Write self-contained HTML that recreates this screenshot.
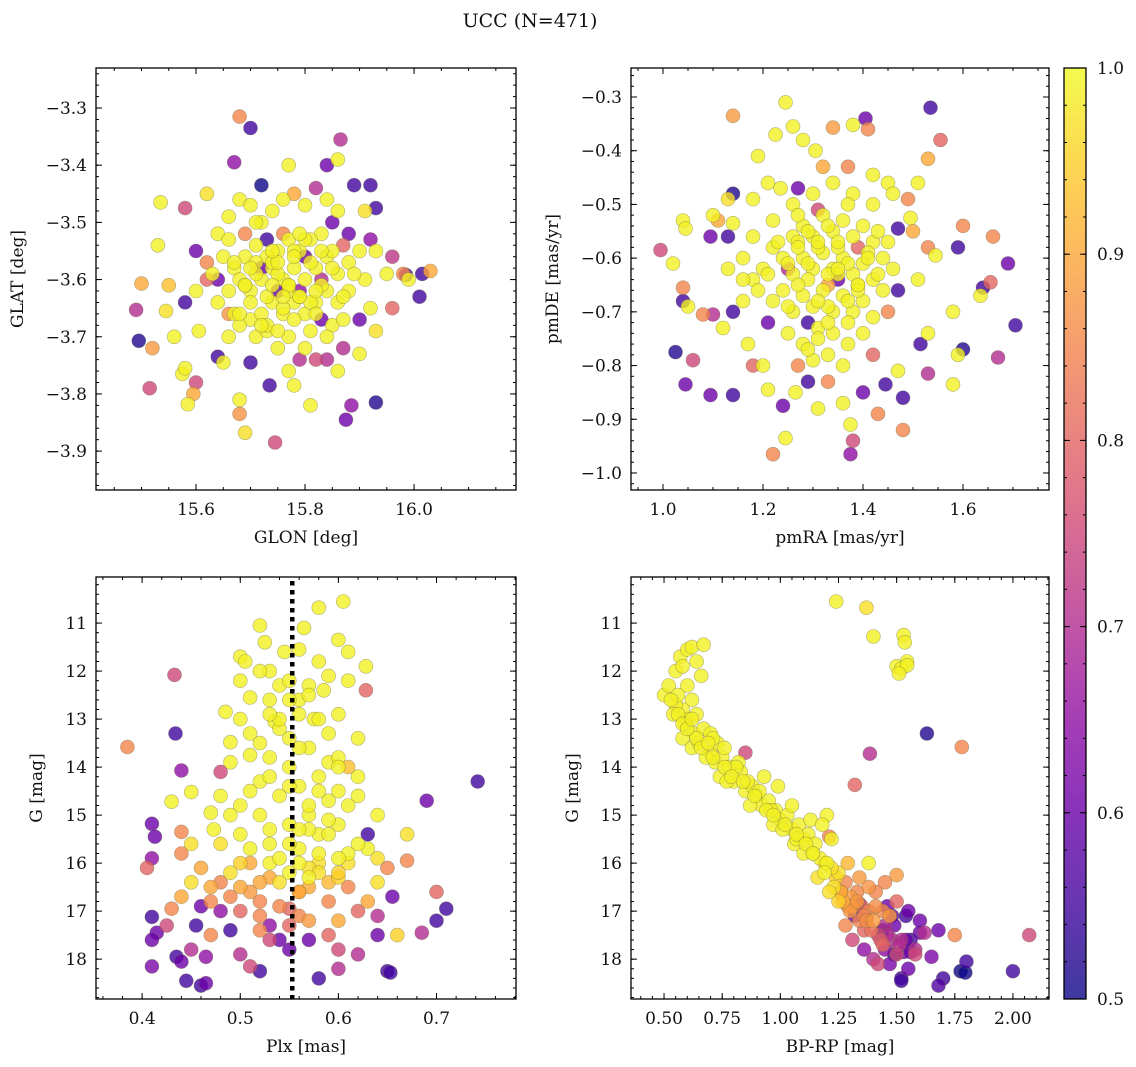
<!DOCTYPE html>
<html><head><meta charset="utf-8"><title>UCC (N=471)</title>
<style>
html,body{margin:0;padding:0;background:#fff;}
svg{display:block;font-family:"DejaVu Serif","Liberation Serif",serif;}
</style></head>
<body>
<svg id="fig" width="1136" height="1067" viewBox="0 0 1136 1067" xmlns="http://www.w3.org/2000/svg">
<rect width="1136" height="1067" fill="#fff"/>
<text x="530" y="27" text-anchor="middle" font-size="19" fill="#111">UCC (N=471)</text>
</svg>
<script>
// ---- Panel 1: GLON / GLAT ----
const glonVals=[15.68,15.70,15.865,15.67,15.84,15.77,15.86,15.89,15.92,15.72,15.535,15.62,15.93,15.91,15.58,15.53,15.60,15.55,15.50,15.49,15.495,15.52,15.515,15.56,15.545,15.58,15.575,15.58,15.585,15.595,15.60,15.605,15.64,15.65,15.68,15.68,15.69,15.70,15.71,15.735,15.745,15.78,15.77,15.81,15.86,15.875,15.885,15.93,15.87,15.90,15.93,15.96,15.98,15.985,16.015,16.03,16.01,15.99,15.95,15.96,15.93,15.90,15.92,15.88,15.88,15.91,15.92,15.90,15.85,15.84,15.82,15.80,15.75,15.70,15.68,15.66,15.64,15.62,15.60,15.62,15.64,15.66,15.68,15.70,15.72,15.74,15.76,15.78,15.80,15.82,15.84,15.86,15.85,15.83,15.81,15.79,15.77,15.75,15.73,15.71,15.69,15.67,15.65,15.63,15.66,15.68,15.70,15.72,15.74,15.76,15.78,15.80,15.82,15.84,15.86,15.84,15.82,15.80,15.78,15.76,15.74,15.72,15.70,15.73,15.77,15.81,15.86,15.88,15.75,15.79,15.83,15.72,15.80,15.76,15.69,15.87,15.64,15.79,15.73,15.83,15.66,15.71,15.75,15.77,15.79,15.74,15.76,15.78,15.73,15.77,15.81,15.69,15.85,15.67,
15.67,15.69,15.71,15.73,15.75,15.77,15.79,15.81,15.83,15.85,15.87,15.89,15.68,15.70,15.72,15.74,15.76,15.78,15.80,15.82,15.84,15.71,15.75,15.79,15.83,15.87,15.66,15.74,15.78,15.82];
const glatVals=[-3.315,-3.335,-3.355,-3.395,-3.40,-3.40,-3.39,-3.435,-3.435,-3.435,-3.465,-3.45,-3.475,-3.48,-3.475,-3.54,-3.55,-3.61,-3.607,-3.653,-3.707,-3.72,-3.79,-3.70,-3.655,-3.64,-3.765,-3.755,-3.818,-3.80,-3.78,-3.69,-3.735,-3.745,-3.835,-3.81,-3.868,-3.745,-3.70,-3.785,-3.885,-3.785,-3.76,-3.82,-3.76,-3.845,-3.82,-3.815,-3.72,-3.73,-3.69,-3.65,-3.59,-3.592,-3.59,-3.585,-3.63,-3.60,-3.59,-3.56,-3.55,-3.55,-3.53,-3.52,-3.57,-3.60,-3.65,-3.67,-3.68,-3.74,-3.74,-3.72,-3.72,-3.67,-3.68,-3.66,-3.64,-3.60,-3.62,-3.57,-3.52,-3.49,-3.46,-3.47,-3.50,-3.48,-3.46,-3.45,-3.47,-3.44,-3.46,-3.48,-3.50,-3.52,-3.53,-3.55,-3.53,-3.55,-3.56,-3.54,-3.56,-3.58,-3.56,-3.59,-3.62,-3.60,-3.62,-3.60,-3.58,-3.60,-3.58,-3.60,-3.58,-3.56,-3.59,-3.62,-3.64,-3.66,-3.64,-3.66,-3.64,-3.66,-3.64,-3.69,-3.70,-3.69,-3.64,-3.62,-3.62,-3.62,-3.60,-3.58,-3.56,-3.52,-3.52,-3.54,-3.60,-3.74,-3.53,-3.67,-3.70,-3.57,-3.59,-3.61,-3.63,-3.57,-3.65,-3.55,-3.68,-3.62,-3.64,-3.61,-3.58,-3.66,
-3.57,-3.61,-3.59,-3.63,-3.57,-3.61,-3.63,-3.57,-3.61,-3.55,-3.63,-3.59,-3.66,-3.58,-3.68,-3.55,-3.63,-3.67,-3.53,-3.66,-3.70,-3.50,-3.69,-3.52,-3.55,-3.67,-3.53,-3.61,-3.56,-3.62];
const probA=[0.85,0.55,0.7,0.65,0.6,0.99,0.99,0.55,0.55,0.5,0.99,0.97,0.55,0.97,0.75,0.99,0.6,0.93,0.9,0.7,0.52,0.88,0.75,0.99,0.97,0.55,0.99,0.99,0.99,0.9,0.75,0.99,0.55,0.99,0.87,0.99,0.97,0.55,0.99,0.55,0.75,0.99,0.99,0.99,0.99,0.6,0.65,0.52,0.7,0.99,0.97,0.8,0.85,0.55,0.55,0.9,0.55,0.99,0.99,0.72,0.99,0.99,0.65,0.6,0.99,0.99,0.99,0.6,0.99,0.7,0.75,0.99,0.99,0.99,0.99,0.87,0.99,0.8,0.99,0.85,0.99,0.99,0.99,0.99,0.99,0.99,0.99,0.9,0.99,0.7,0.99,0.99,0.6,0.99,0.99,0.99,0.99,0.99,0.99,0.99,0.99,0.99,0.99,0.99,0.99,0.99,0.99,0.99,0.99,0.99,0.99,0.99,0.99,0.99,0.99,0.99,0.99,0.99,0.99,0.99,0.99,0.99,0.99,0.99,0.99,0.99,0.99,0.99,0.6,0.65,0.7,0.6,0.6,0.85,0.85,0.8,0.6,0.7,0.55,0.6,0.99,0.99,0.99,0.99,0.99,0.99,0.99,0.99,0.99,0.99,0.99,0.99,0.99,0.99,
0.99,0.99,0.99,0.99,0.99,0.99,0.99,0.99,0.99,0.99,0.99,0.99,0.99,0.99,0.99,0.99,0.99,0.99,0.99,0.99,0.99,0.99,0.99,0.99,0.99,0.99,0.99,0.99,0.99,0.99];
const xTicksA=[15.6,15.8,16.0];
const yTicksA=[-3.3,-3.4,-3.5,-3.6,-3.7,-3.8,-3.9];

// ---- Panel 2: pmRA / pmDE ----
const pmraVals=[1.14,1.245,1.535,1.405,1.225,1.26,1.34,1.38,1.41,1.555,1.28,1.19,1.305,1.53,1.32,1.37,1.42,1.45,1.51,1.13,1.14,1.18,1.21,1.235,1.27,1.10,1.11,1.14,1.13,1.095,1.04,1.045,1.02,0.995,1.04,1.04,1.05,1.08,1.10,1.025,1.06,1.045,1.095,1.14,1.12,1.14,1.16,1.17,1.18,1.20,1.21,1.24,1.245,1.22,1.265,1.29,1.31,1.33,1.36,1.375,1.38,1.375,1.40,1.43,1.445,1.48,1.48,1.47,1.53,1.58,1.59,1.60,1.67,1.705,1.69,1.66,1.655,1.64,1.635,1.60,1.59,1.58,1.545,1.53,1.53,1.515,1.50,1.495,1.47,1.49,1.46,1.42,1.38,1.34,1.30,1.26,1.22,1.18,1.16,1.18,1.20,1.22,1.24,1.26,1.28,1.30,1.32,1.34,1.36,1.38,1.40,1.42,1.44,1.46,1.44,1.42,1.40,1.38,1.36,1.34,1.32,1.30,1.28,1.26,1.24,1.22,1.26,1.28,1.30,1.32,1.34,1.36,1.38,1.40,1.42,1.40,1.37,1.34,1.31,1.28,1.25,1.30,1.36,1.33,1.29,1.35,1.25,1.39,1.31,1.45,1.21,1.42,1.27,1.47,1.51,1.16,1.13,1.33,1.35,1.31,1.37,1.29,1.33,1.39,1.27,
1.25,1.27,1.29,1.31,1.33,1.35,1.37,1.39,1.41,1.43,1.23,1.27,1.31,1.35,1.39,1.43,1.21,1.25,1.29,1.33,1.37,1.41,1.45,1.19,1.33,1.29,1.37,1.31,1.35,1.27];
const pmdeVals=[-0.335,-0.31,-0.32,-0.34,-0.37,-0.355,-0.357,-0.352,-0.36,-0.38,-0.38,-0.41,-0.40,-0.415,-0.43,-0.43,-0.445,-0.46,-0.46,-0.49,-0.48,-0.49,-0.46,-0.47,-0.47,-0.52,-0.53,-0.535,-0.56,-0.56,-0.53,-0.545,-0.61,-0.585,-0.655,-0.68,-0.69,-0.705,-0.705,-0.775,-0.79,-0.835,-0.855,-0.855,-0.73,-0.70,-0.68,-0.76,-0.80,-0.80,-0.845,-0.875,-0.935,-0.965,-0.85,-0.83,-0.88,-0.83,-0.87,-0.91,-0.94,-0.965,-0.85,-0.89,-0.835,-0.86,-0.92,-0.81,-0.815,-0.835,-0.78,-0.77,-0.785,-0.725,-0.61,-0.56,-0.645,-0.655,-0.67,-0.54,-0.58,-0.70,-0.595,-0.58,-0.74,-0.76,-0.55,-0.525,-0.545,-0.49,-0.48,-0.50,-0.48,-0.46,-0.48,-0.50,-0.53,-0.56,-0.60,-0.64,-0.62,-0.58,-0.60,-0.56,-0.54,-0.56,-0.52,-0.55,-0.53,-0.56,-0.54,-0.57,-0.60,-0.62,-0.66,-0.64,-0.61,-0.63,-0.60,-0.62,-0.59,-0.62,-0.60,-0.63,-0.66,-0.68,-0.70,-0.67,-0.69,-0.66,-0.70,-0.67,-0.70,-0.68,-0.71,-0.74,-0.76,-0.74,-0.73,-0.76,-0.74,-0.79,-0.80,-0.78,-0.72,-0.64,-0.62,-0.58,-0.51,-0.70,-0.72,-0.78,-0.80,-0.66,-0.64,-0.64,-0.62,-0.65,-0.63,-0.58,-0.68,-0.61,-0.69,-0.65,-0.57,
-0.61,-0.58,-0.64,-0.57,-0.63,-0.58,-0.61,-0.66,-0.59,-0.63,-0.57,-0.65,-0.68,-0.62,-0.65,-0.55,-0.63,-0.69,-0.55,-0.72,-0.72,-0.60,-0.57,-0.66,-0.54,-0.77,-0.50,-0.75,-0.57,-0.52];
const probB=[0.88,0.99,0.55,0.6,0.99,0.99,0.88,0.99,0.85,0.8,0.99,0.99,0.99,0.9,0.9,0.85,0.99,0.99,0.99,0.97,0.52,0.99,0.99,0.99,0.6,0.99,0.9,0.99,0.55,0.6,0.99,0.99,0.99,0.75,0.85,0.55,0.99,0.85,0.7,0.52,0.75,0.6,0.6,0.55,0.99,0.55,0.99,0.99,0.8,0.99,0.99,0.6,0.99,0.85,0.99,0.55,0.99,0.85,0.99,0.99,0.75,0.65,0.6,0.85,0.55,0.55,0.85,0.99,0.7,0.99,0.99,0.52,0.7,0.55,0.6,0.85,0.8,0.55,0.99,0.85,0.55,0.99,0.99,0.85,0.99,0.55,0.9,0.99,0.55,0.85,0.99,0.99,0.99,0.99,0.99,0.99,0.99,0.99,0.99,0.99,0.99,0.99,0.99,0.99,0.99,0.99,0.99,0.99,0.99,0.99,0.99,0.99,0.99,0.99,0.99,0.99,0.99,0.99,0.99,0.99,0.99,0.99,0.99,0.99,0.99,0.99,0.99,0.99,0.99,0.99,0.99,0.99,0.99,0.99,0.99,0.99,0.99,0.99,0.99,0.99,0.99,0.99,0.99,0.99,0.55,0.6,0.7,0.8,0.75,0.85,0.6,0.8,0.85,0.55,0.99,0.99,0.99,0.9,0.99,0.99,0.99,0.99,0.99,0.99,0.99,0.99,
0.99,0.99,0.99,0.99,0.99,0.99,0.99,0.99,0.99,0.99,0.99,0.99,0.99,0.99,0.99,0.99,0.99,0.99,0.99,0.99,0.99,0.99,0.99,0.99,0.99,0.99,0.99,0.99,0.99,0.99];
const xTicksB=[1.0,1.2,1.4,1.6];
const yTicksB=[-0.3,-0.4,-0.5,-0.6,-0.7,-0.8,-0.9,-1.0];

// ---- Panel 3: Plx / G ----
const plxVals=[0.385,0.433,0.434,0.44,0.43,0.41,0.413,0.41,0.405,0.41,0.415,0.41,0.41,0.435,0.44,0.445,0.46,0.465,0.465,0.44,0.44,0.45,0.45,0.47,0.473,0.48,0.48,0.49,0.485,0.49,0.50,0.50,0.505,0.51,0.51,0.51,0.52,0.525,0.53,0.53,0.535,0.54,0.545,0.55,0.55,0.56,0.56,0.565,0.57,0.575,0.58,0.58,0.585,0.59,0.60,0.605,0.61,0.61,0.60,0.61,0.62,0.628,0.628,0.62,0.63,0.63,0.64,0.64,0.65,0.655,0.67,0.67,0.69,0.70,0.70,0.71,0.742,0.685,0.66,0.64,0.65,0.653,0.62,0.60,0.58,0.57,0.56,0.52,0.51,0.50,0.49,0.48,0.47,0.46,0.455,0.44,0.43,0.425,0.50,0.49,0.51,0.52,0.53,0.54,0.55,0.57,0.58,0.59,0.60,0.61,0.62,0.63,0.64,0.59,0.54,0.52,0.47,0.48,0.46,0.45,0.50,0.50,0.52,0.52,0.53,0.53,0.54,0.55,0.55,0.56,0.56,0.57,0.57,0.58,0.58,0.59,0.59,0.60,0.60,0.61,0.55,0.56,0.54,0.53,0.57,0.60,0.50,0.49,0.51,0.58,0.60,0.62,0.56,0.52,0.55,0.60,0.50,0.45,0.51,0.53,0.56,0.54,0.57,0.59,0.52,0.58,0.49,0.61,0.47,0.55,0.53,0.57,
0.52,0.54,0.56,0.58,0.60,0.53,0.55,0.57,0.59,0.51,0.53,0.55,0.57,0.59,0.61,0.54,0.56,0.58,0.60,0.62,0.52,0.56,0.60,0.50,0.48,0.64,0.57,0.55,0.53,0.59];
const gPlxVals=[13.58,12.08,13.3,14.07,14.72,15.18,15.45,15.9,16.1,17.12,17.45,17.6,18.15,17.95,18.05,18.45,18.55,18.5,17.95,15.35,15.8,16.4,14.52,14.95,15.3,14.6,14.1,13.9,12.85,13.48,11.7,12.2,11.8,12.55,13.3,13.75,11.05,11.4,12.0,12.6,13.05,12.3,11.6,12.2,13.4,11.55,12.9,11.1,12.3,13.0,10.68,11.8,12.4,13.3,11.35,10.55,11.6,12.2,12.9,14.0,14.2,11.9,12.4,14.6,15.4,15.7,15.0,16.4,16.1,16.7,15.95,15.4,14.7,16.6,17.2,16.95,14.3,17.45,17.5,17.5,18.25,18.28,17.9,18.2,18.4,17.6,17.1,18.25,18.15,17.9,17.4,17.0,16.8,16.9,17.3,16.7,16.95,17.3,16.5,16.2,16.0,16.8,17.3,16.4,16.95,16.5,16.0,16.8,17.2,16.5,17.0,16.8,17.1,17.5,17.6,17.4,17.5,16.4,16.1,15.6,15.4,14.8,14.3,15.0,15.6,13.8,14.6,15.2,14.0,15.7,14.4,13.6,15.0,14.2,15.4,14.7,13.9,15.2,14.5,15.8,16.2,16.0,13.2,16.0,16.3,15.9,13.0,15.0,14.5,13.0,13.8,13.4,12.6,12.0,17.8,17.8,17.0,17.8,16.6,16.3,16.6,16.9,16.1,16.4,17.1,16.2,16.7,16.0,16.5,17.3,17.6,17.2,
13.5,13.0,13.6,14.5,14.0,14.2,14.4,14.8,15.4,15.7,15.3,15.6,15.3,15.1,14.8,15.9,15.3,15.8,16.3,15.6,16.4,16.6,16.2,16.0,15.6,15.9,12.5,12.6,12.9,12.1];
const probC=[0.85,0.75,0.55,0.65,0.99,0.6,0.6,0.65,0.8,0.55,0.6,0.6,0.62,0.55,0.6,0.55,0.55,0.6,0.65,0.85,0.85,0.97,0.99,0.99,0.99,0.99,0.75,0.99,0.99,0.99,0.99,0.99,0.99,0.99,0.99,0.99,0.99,0.99,0.99,0.99,0.99,0.99,0.99,0.99,0.99,0.99,0.99,0.99,0.99,0.99,0.99,0.99,0.99,0.99,0.99,0.99,0.99,0.99,0.99,0.93,0.99,0.99,0.8,0.99,0.55,0.99,0.99,0.97,0.85,0.6,0.85,0.97,0.6,0.8,0.55,0.55,0.55,0.7,0.95,0.6,0.55,0.55,0.7,0.7,0.55,0.6,0.85,0.55,0.75,0.7,0.55,0.65,0.85,0.6,0.55,0.9,0.85,0.75,0.9,0.97,0.9,0.85,0.65,0.97,0.8,0.9,0.97,0.85,0.9,0.85,0.8,0.9,0.7,0.8,0.6,0.85,0.85,0.85,0.9,0.97,0.99,0.99,0.99,0.99,0.99,0.99,0.99,0.99,0.99,0.99,0.99,0.99,0.99,0.99,0.99,0.99,0.99,0.99,0.99,0.99,0.99,0.99,0.99,0.99,0.99,0.99,0.99,0.99,0.99,0.99,0.99,0.99,0.99,0.99,0.6,0.75,0.8,0.7,0.88,0.9,0.9,0.85,0.97,0.92,0.85,0.97,0.85,0.97,0.9,0.8,0.75,0.88,
0.99,0.99,0.99,0.99,0.99,0.99,0.99,0.99,0.99,0.99,0.99,0.99,0.99,0.99,0.99,0.99,0.99,0.99,0.95,0.99,0.9,0.9,0.95,0.95,0.97,0.97,0.99,0.99,0.99,0.99];
const plxMean=[0.553];
const xTicksC=[0.4,0.5,0.6,0.7];
const yTicksC=[11,12,13,14,15,16,17,18];

// ---- Panel 4: BP-RP / G ----
const bprpVals=[1.24,1.37,1.40,1.53,1.535,1.545,1.50,1.52,1.545,1.51,1.63,1.385,1.78,1.32,2.07,2.0,1.80,1.775,1.795,1.70,1.68,1.65,1.68,1.60,1.58,0.5,0.52,0.55,0.57,0.58,0.6,0.62,0.64,0.67,0.66,0.6,0.62,0.58,0.55,0.6,0.63,0.58,0.62,0.65,0.67,0.7,0.72,0.68,0.75,0.78,0.74,0.8,0.83,0.85,0.88,0.9,0.92,0.87,0.95,0.98,1.0,0.97,1.03,1.05,1.08,1.1,1.12,1.15,1.1,1.17,1.2,1.22,1.2,1.25,1.23,1.28,1.3,1.27,1.33,1.35,1.32,1.38,1.4,1.36,1.42,1.45,1.44,1.48,1.5,1.47,1.53,1.55,1.52,1.46,1.41,1.28,1.31,1.36,1.4,0.7,0.73,0.82,0.77,0.93,0.99,1.05,1.13,1.06,1.18,1.16,1.22,1.29,1.34,1.38,1.45,1.5,1.55,1.48,1.52,1.42,1.56,1.6,0.85,0.54,0.56,0.59,0.64,0.71,0.76,0.81,0.86,0.91,0.96,1.01,1.07,1.14,1.19,1.26,1.38,1.5,1.54,1.21,1.44,1.34,1.37,1.44,1.49,1.62,1.56,1.75,1.52,1.47,
0.53,0.56,0.58,0.6,0.62,0.64,0.66,0.69,0.71,0.76,0.79,0.84,0.89,0.94,0.97,1.02,1.07,1.11,1.14,1.19,1.24,1.26,1.29,1.31,1.34,1.37,1.39,1.43,1.46,1.49,1.3,1.36,1.41,1.33,1.21,1.25,1.45,1.51,1.54,1.58];
const gBpVals=[10.55,10.68,11.28,11.25,11.4,11.8,11.9,11.95,11.88,12.05,13.3,13.72,13.58,14.37,17.5,18.25,18.05,18.25,18.28,18.4,18.55,17.95,17.4,17.45,17.8,12.5,12.3,12.0,11.7,11.9,11.55,11.5,11.8,11.45,12.1,12.3,12.6,12.8,12.7,13.0,13.3,13.4,13.6,13.5,13.2,13.7,13.9,13.8,13.8,14.0,14.2,14.3,14.1,14.5,14.4,14.6,14.8,14.8,14.7,14.9,15.1,15.2,15.0,15.3,15.2,15.5,15.4,15.6,15.8,15.9,16.0,15.5,15.0,16.2,16.5,16.4,16.7,16.8,16.6,16.9,17.1,17.0,17.2,17.4,17.5,17.3,17.7,17.6,17.9,18.1,17.85,18.2,18.4,16.9,16.6,17.3,17.6,17.8,18.0,13.3,13.5,13.9,14.3,14.2,14.4,14.8,15.1,15.6,15.2,16.3,16.1,16.0,16.3,16.5,16.4,16.8,17.0,17.1,17.6,18.1,17.6,17.2,13.7,12.9,12.5,13.1,12.9,13.4,13.6,14.0,14.3,14.5,14.9,15.3,15.5,15.8,16.2,16.6,16.0,16.25,17.1,15.45,17.0,16.85,17.15,17.4,17.9,17.45,17.85,17.5,18.45,17.1,
12.6,12.9,13.1,13.2,13.0,13.4,13.6,13.5,13.8,14.0,14.2,14.3,14.6,14.9,15.0,15.2,15.4,15.6,15.8,16.0,16.3,16.6,16.9,16.9,17.2,17.2,17.4,17.6,17.5,17.3,17.0,17.1,16.9,16.8,16.6,16.8,17.8,17.7,17.6,17.9];
const probD=[0.99,0.97,0.99,0.99,0.99,0.99,0.99,0.99,0.99,0.99,0.52,0.7,0.85,0.8,0.75,0.55,0.55,0.5,0.5,0.55,0.57,0.62,0.6,0.6,0.7,0.99,0.99,0.99,0.99,0.99,0.99,0.99,0.99,0.99,0.99,0.99,0.99,0.99,0.99,0.99,0.99,0.99,0.99,0.99,0.99,0.99,0.99,0.99,0.99,0.99,0.99,0.99,0.99,0.99,0.99,0.99,0.99,0.99,0.99,0.99,0.99,0.99,0.99,0.99,0.99,0.99,0.99,0.99,0.99,0.99,0.99,0.99,0.99,0.97,0.97,0.85,0.88,0.9,0.85,0.8,0.6,0.85,0.88,0.8,0.75,0.7,0.8,0.7,0.75,0.62,0.6,0.6,0.55,0.6,0.85,0.85,0.75,0.65,0.7,0.99,0.99,0.99,0.99,0.99,0.99,0.99,0.99,0.99,0.99,0.97,0.97,0.92,0.88,0.87,0.85,0.8,0.6,0.58,0.7,0.75,0.55,0.6,0.75,0.99,0.99,0.99,0.99,0.99,0.99,0.99,0.99,0.99,0.99,0.99,0.99,0.99,0.99,0.9,0.99,0.88,0.55,0.85,0.85,0.6,0.55,0.52,0.5,0.7,0.6,0.85,0.55,0.88,
0.99,0.99,0.99,0.99,0.99,0.99,0.99,0.99,0.99,0.99,0.99,0.99,0.99,0.99,0.99,0.99,0.99,0.99,0.99,0.97,0.95,0.88,0.86,0.88,0.85,0.86,0.82,0.78,0.7,0.6,0.88,0.85,0.86,0.88,0.97,0.95,0.65,0.7,0.6,0.75];
const xTicksD=[0.5,0.75,1.0,1.25,1.5,1.75,2.0];
const yTicksD=[11,12,13,14,15,16,17,18];

// ---- Colorbar ----
const cbTicks=[0.5,0.6,0.7,0.8,0.9,1.0];
const cbMin=0.5, cbMax=1.0;

const NS='http://www.w3.org/2000/svg';
const svg=document.getElementById('fig');
function el(tag,attrs,parent){const e=document.createElementNS(NS,tag);for(const k in attrs)e.setAttribute(k,attrs[k]);(parent||svg).appendChild(e);return e;}
const stops=[[13,8,135],[65,4,157],[106,0,168],[143,13,164],[177,42,144],[204,71,120],[225,100,98],[242,132,75],[252,166,54],[252,206,37],[240,249,33]];
function plasma(t){if(!isFinite(t))t=1;t=Math.max(0,Math.min(1,t));const f=t*10,i=Math.min(9,Math.floor(f)),r=f-i;const a=stops[i],b=stops[i+1];return 'rgb('+a.map((v,k)=>Math.round(v+(b[k]-v)*r)).join(',')+')';}
function fmt(v,d){const s=v.toFixed(d);return s.replace('-','\u2212');}

function panel(cfg){
  const g=el('g',{});
  
  
  const {x0,x1,y0,y1,xmin,xmax,ymin,ymax}=cfg;
  const sx=v=>x0+(v-xmin)/(xmax-xmin)*(x1-x0);
  const sy=v=>y0+(v-ymin)/(ymax-ymin)*(y1-y0);
  const n=Math.min(cfg.xs.length,cfg.ys.length);
  const pv=i=>(cfg.ps[i]===undefined?0.99:cfg.ps[i]);
  const idx=[];for(let i=0;i<n;i++)idx.push(i);
  idx.sort((a,b)=>pv(a)-pv(b));
  const pg=el('g',{},g);
  
  
  idx.forEach(i=>{
    const c=el('circle',{cx:sx(cfg.xs[i]).toFixed(1),cy:sy(cfg.ys[i]).toFixed(1),r:7,fill:plasma((pv(i)-cbMin)/(cbMax-cbMin)),'fill-opacity':0.8,stroke:'#6a6a4a','stroke-opacity':0.5,'stroke-width':0.6},pg);
    
    
  });
  if(cfg.vline){cfg.vline.forEach(v=>{
    const l=el('line',{x1:sx(v),x2:sx(v),y1:y0+4,y2:y1,stroke:'#000','stroke-width':4.5,'stroke-dasharray':'4.5,4.5'},g);
    
    
  });}
  const tg=el('g',{stroke:'#000','stroke-width':1},g);
  const yTop=Math.min(y0,y1),yBot=Math.max(y0,y1);
  for(let v=Math.ceil(xmin/cfg.xminor-1e-9)*cfg.xminor;v<=xmax;v+=cfg.xminor){const X=sx(v);el('line',{x1:X,x2:X,y1:yBot,y2:yBot-3},tg);el('line',{x1:X,x2:X,y1:yTop,y2:yTop+3},tg);}
  const ylo=Math.min(ymin,ymax),yhi=Math.max(ymin,ymax);
  for(let v=Math.ceil(ylo/cfg.yminor-1e-9)*cfg.yminor;v<=yhi;v+=cfg.yminor){const Y=sy(v);el('line',{x1:x0,x2:x0+3,y1:Y,y2:Y},tg);el('line',{x1:x1,x2:x1-3,y1:Y,y2:Y},tg);}
  cfg.xt.forEach(v=>{const X=sx(v);el('line',{x1:X,x2:X,y1:yBot,y2:yBot-6},tg);el('line',{x1:X,x2:X,y1:yTop,y2:yTop+6},tg);
    const t=el('text',{x:X,y:yBot+25,'text-anchor':'middle','font-size':17,fill:'#111',stroke:'none'},g);t.textContent=fmt(v,cfg.xd);
    
    });
  cfg.yt.forEach(v=>{const Y=sy(v);el('line',{x1:x0,x2:x0+6,y1:Y,y2:Y},tg);el('line',{x1:x1,x2:x1-6,y1:Y,y2:Y},tg);
    const t=el('text',{x:x0-9,y:Y+6,'text-anchor':'end','font-size':17,fill:'#111',stroke:'none'},g);t.textContent=fmt(v,cfg.yd);
    
    });
  const fr=el('rect',{x:x0,y:yTop,width:x1-x0,height:yBot-yTop,fill:'none',stroke:'#000','stroke-width':1.3},g);
  
  
  const xl=el('text',{x:(x0+x1)/2,y:yBot+53,'text-anchor':'middle','font-size':17,fill:'#111'},g);xl.textContent=cfg.xlabel;
  
  
  const yl=el('text',{x:0,y:0,'text-anchor':'middle','font-size':17,fill:'#111',transform:`translate(${cfg.ylx},${(yTop+yBot)/2}) rotate(-90)`},g);yl.textContent=cfg.ylabel;
  
  
}

panel({name:'glon-glat-panel',x0:96,x1:516,y0:68,y1:490,xmin:15.4165,xmax:16.187,ymin:-3.23,ymax:-3.968,xs:glonVals,ys:glatVals,ps:probA,xt:xTicksA,yt:yTicksA,xd:1,yd:1,xminor:0.05,yminor:0.02,xlabel:'GLON [deg]',ylabel:'GLAT [deg]',ylx:23});
panel({name:'pmra-pmde-panel',x0:631,x1:1049,y0:68,y1:490,xmin:0.936,xmax:1.772,ymin:-0.246,ymax:-1.0317,xs:pmraVals,ys:pmdeVals,ps:probB,xt:xTicksB,yt:yTicksB,xd:1,yd:1,xminor:0.05,yminor:0.02,xlabel:'pmRA [mas/yr]',ylabel:'pmDE [mas/yr]',ylx:558});
panel({name:'plx-g-panel',x0:96,x1:516,y0:577,y1:999,xmin:0.353,xmax:0.781,ymin:10.04,ymax:18.83,xs:plxVals,ys:gPlxVals,ps:probC,xt:xTicksC,yt:yTicksC,xd:1,yd:0,xminor:0.02,yminor:0.2,xlabel:'Plx [mas]',ylabel:'G [mag]',ylx:42,vline:plxMean});
panel({name:'bprp-g-panel',x0:631,x1:1049,y0:577,y1:999,xmin:0.358,xmax:2.155,ymin:10.04,ymax:18.83,xs:bprpVals,ys:gBpVals,ps:probD,xt:xTicksD,yt:yTicksD,xd:2,yd:0,xminor:0.05,yminor:0.2,xlabel:'BP-RP [mag]',ylabel:'G [mag]',ylx:578});

(function(){
  const cx0=1064,cx1=1086,cy0=68,cy1=999;
  const defs=el('defs',{});
  const lg=el('linearGradient',{id:'cbgrad',x1:0,y1:1,x2:0,y2:0},defs);
  for(let i=0;i<=20;i++){el('stop',{offset:(i/20),'stop-color':plasma(i/20)},lg);}
  const cb=el('g',{});
  
  
  el('rect',{x:cx0,y:cy0,width:cx1-cx0,height:cy1-cy0,fill:'url(#cbgrad)','fill-opacity':0.8},cb);
  const sy=v=>cy1-(v-cbMin)/(cbMax-cbMin)*(cy1-cy0);
  for(let v=cbMin;v<=cbMax+1e-9;v+=0.02){const Y=sy(v);el('line',{x1:cx0,x2:cx0+3,y1:Y,y2:Y,stroke:'#000'},cb);el('line',{x1:cx1,x2:cx1-3,y1:Y,y2:Y,stroke:'#000'},cb);}
  cbTicks.forEach(v=>{const Y=sy(v);el('line',{x1:cx0,x2:cx0+6,y1:Y,y2:Y,stroke:'#000'},cb);el('line',{x1:cx1,x2:cx1-6,y1:Y,y2:Y,stroke:'#000'},cb);
    const t=el('text',{x:cx1+11,y:Y+6,'font-size':17,fill:'#111'},cb);t.textContent=v.toFixed(1);
    
    });
  el('rect',{x:cx0,y:cy0,width:cx1-cx0,height:cy1-cy0,fill:'none',stroke:'#000','stroke-width':1.3},cb);
})();
</script>
</body></html>
